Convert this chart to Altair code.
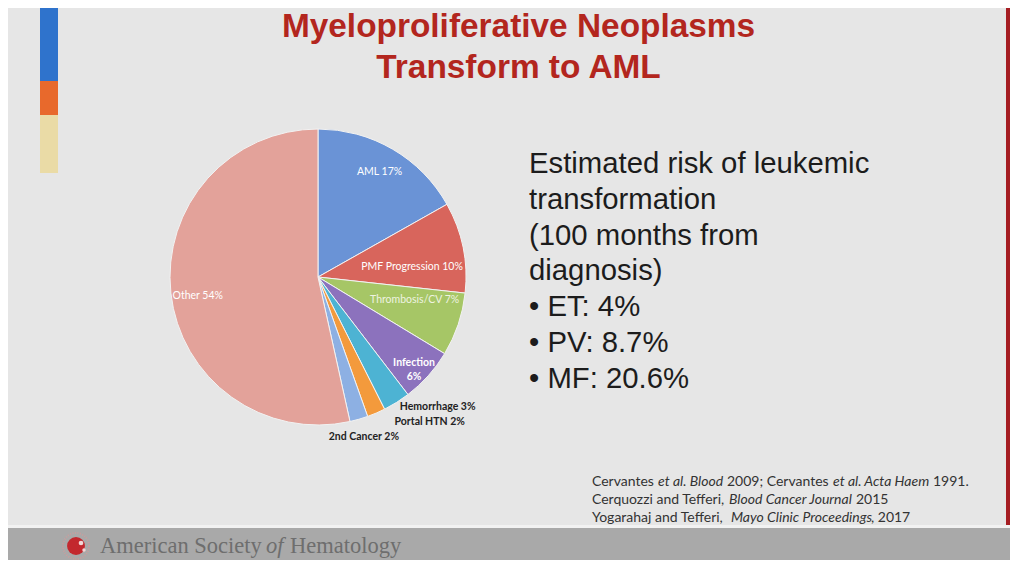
import altair as alt
import pandas as pd

# ---------------- data ----------------
categories = ["AML", "PMF Progression", "Thrombosis/CV", "Infection",
              "Hemorrhage", "Portal HTN", "2nd Cancer", "Other"]
values = [17, 10, 7, 6, 3, 2, 2, 54]
labels = ["AML 17%", "PMF Progression 10%", "Thrombosis/CV 7%", "Infection\n6%",
          "Hemorrhage 3%", "Portal HTN 2%", "2nd Cancer 2%", "Other 54%"]

title_lines = ["Myeloproliferative Neoplasms", "Transform to AML"]
risk_lines = ["Estimated risk of leukemic", "transformation", "(100 months from",
              "diagnosis)", "\u2022 ET: 4%", "\u2022 PV: 8.7%", "\u2022 MF: 20.6%"]

# ---------------- style ----------------
palette = ["#6a93d6", "#d8655c", "#a6c666", "#8c72bd",
           "#4db3d3", "#f39a3c", "#8db0e3", "#e3a29a"]
BG = "#e6e6e6"
OFF = 8  # page margin
W, H = 1002, 552

one = pd.DataFrame({"a": [0]})


def txt(s, x, y, size, color, font="Liberation Sans", weight="normal",
        style="normal", align="left", baseline="alphabetic"):
    return alt.Chart(one).mark_text(
        text=s, font=font, fontSize=size, fontWeight=weight, fontStyle=style,
        color=color, align=align, baseline=baseline
    ).encode(x=alt.value(x - OFF), y=alt.value(y - OFF))


def rect(x1, y1, x2, y2, color):
    return alt.Chart(one).mark_rect(color=color).encode(
        x=alt.value(max(x1 - OFF, 0)), x2=alt.value(min(x2 - OFF, W)),
        y=alt.value(max(y1 - OFF, 0)), y2=alt.value(min(y2 - OFF, H)))


layers = []

# left stripes
layers += [rect(40, 0, 58, 81, "#2f73cc"),
           rect(40, 81, 58, 115, "#e8692c"),
           rect(40, 115, 58, 173, "#eadba6")]
# right edge
layers += [rect(1006, 0, 1010, 560, "#a51d22")]
# footer band
layers += [rect(0, 525, 1010, 528, "#f2f2f2"),
           rect(0, 528, 1010, 560, "#a9a9a9")]

# title
layers += [txt(title_lines[0], 518.5, 36.5, 33.4, "#b3261e", weight="bold", align="center"),
           txt(title_lines[1], 518.5, 78, 33.4, "#b3261e", weight="bold", align="center")]

# pie
CX, CY, R = 318 - OFF, 277 - OFF, 148
pie_df = pd.DataFrame({"cat": categories, "value": values,
                       "idx": list(range(len(categories))), "label": labels})

arc = alt.Chart(pie_df).mark_arc(radius=R, stroke="#f2f2f2", strokeWidth=1).encode(
    theta=alt.Theta("value:Q", stack=True),
    color=alt.Color("cat:N", scale=alt.Scale(domain=categories, range=palette), legend=None),
    order=alt.Order("idx:Q"),
    x=alt.value(CX), y=alt.value(CY),
)
layers.append(arc)

base = alt.Chart(pie_df).transform_joinaggregate(
    total="sum(value)"
).transform_window(
    cum="sum(value)", sort=[alt.SortField("idx")], frame=[None, 0]
).transform_calculate(
    mid="(datum.cum - datum.value/2) / datum.total * 2 * PI"
)

# label layout: radius, dx, dy, align, colour, weight
label_layout = {
    "AML": (122, 0, 0, "center", "#ffffff", "normal"),
    "PMF Progression": (96, 0, 9, "center", "#ffffff", "normal"),
    "Thrombosis/CV": (102, 0, -10, "center", "#eef3e0", "normal"),
    "Infection": (129, 0, 0, "center", "#ffffff", "bold"),
    "Other": (121, 0, 6, "center", "#ffffff", "normal"),
    "Hemorrhage": (154, 0, 0, "left", "#222222", "bold"),
    "Portal HTN": (164, 12, -6, "left", "#222222", "bold"),
    "2nd Cancer": (166, 0, 0, "center", "#222222", "bold"),
}
for cat, (r, dx, dy, align, color, weight) in label_layout.items():
    layers.append(
        base.transform_filter(alt.datum.cat == cat).mark_text(
            font="Lato", fontSize=10.5, fontWeight=weight, color=color,
            align=align, baseline="middle", dx=dx, dy=dy, lineBreak="\n", lineHeight=14
        ).encode(
            theta=alt.Theta("mid:Q", scale=None, stack=False),
            radius=alt.value(r),
            x=alt.value(CX), y=alt.value(CY),
            text="label:N",
        )
    )

# right-hand text
for i, line in enumerate(risk_lines):
    layers.append(txt(line, 529, 173 + 35.8 * i, 29.3, "#1c1c1c"))

# citations
cite = [
    ("Cervantes", 592, 486, "normal"),
    ("et al. Blood", 658, 486, "italic"),
    ("2009; Cervantes", 727, 486, "normal"),
    ("et al. Acta Haem", 833, 486, "italic"),
    ("1991.", 933, 486, "normal"),
    ("Cerquozzi and Tefferi,", 592, 504, "normal"),
    ("Blood Cancer Journal", 729, 504, "italic"),
    ("2015", 856, 504, "normal"),
    ("Yogarahaj and Tefferi,", 592, 522, "normal"),
    ("Mayo Clinic Proceedings", 731, 522, "italic"),
    (", 2017", 871, 522, "normal"),
]
for s, x, y, st in cite:
    layers.append(txt(s, x, y, 14, "#333333", font="Lato", style=st))

# footer logo and text
LX, LY = 76, 546
layers.append(alt.Chart(one).mark_point(
    shape="circle", filled=False, size=680, stroke="#d99a9a", strokeWidth=2,
    strokeDash=[1, 1.5]).encode(x=alt.value(LX - OFF), y=alt.value(LY - OFF)))
layers.append(alt.Chart(one).mark_circle(size=320, color="#c3282e", opacity=1).encode(
    x=alt.value(LX - OFF), y=alt.value(LY - OFF)))
layers.append(alt.Chart(one).mark_circle(size=22, color="#f3d6d6", opacity=1).encode(
    x=alt.value(LX + 5 - OFF), y=alt.value(LY - 3 - OFF)))
layers.append(alt.Chart(one).mark_circle(size=12, color="#f3d6d6", opacity=1).encode(
    x=alt.value(LX + 8 - OFF), y=alt.value(LY + 4 - OFF)))
layers += [txt("American Society", 100, 553, 22.5, "#6e6e6e", font="Liberation Serif"),
           txt("of", 266, 553, 22.5, "#6e6e6e", font="Liberation Serif", style="italic"),
           txt("Hematology", 290, 553, 22.5, "#6e6e6e", font="Liberation Serif")]

chart = alt.layer(*layers).properties(
    width=W, height=H,
    autosize=alt.AutoSizeParams(type="fit", contains="padding"),
    padding=0, background=BG,
).configure_view(stroke=None)

chart.save("out.html", embed_options={"renderer": "svg", "actions": False})
